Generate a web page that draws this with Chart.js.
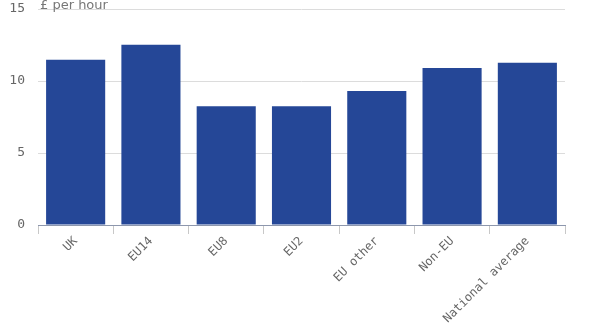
<!DOCTYPE html>
<html>
<head>
<meta charset="utf-8">
<script src="https://cdn.jsdelivr.net/npm/chart.js@4/dist/chart.umd.min.js"></script>
<style>
html,body{margin:0;padding:0;background:#fff;}
#wrap{position:relative;width:600px;height:336px;}
</style>
</head>
<body>
<div id="wrap"><canvas id="c" width="600" height="336"></canvas></div>
<script>
const categories = ["UK", "EU14", "EU8", "EU2", "EU other", "Non-EU", "National average"];
const payPerHour = [11.47, 12.52, 8.25, 8.25, 9.3, 10.91, 11.26];
const yTicks = [0, 5, 10, 15];
const unitLabel = "£ per hour";

const unitPlugin = {
  id: 'unitLabel',
  afterDraw(chart) {
    const ctx = chart.ctx;
    ctx.save();
    ctx.font = '13px "DejaVu Sans", sans-serif';
    ctx.fillStyle = '#777';
    ctx.textAlign = 'left';
    ctx.textBaseline = 'alphabetic';
    ctx.fillText(unitLabel, chart.chartArea.left + 2, 9);
    ctx.restore();
  }
};

new Chart(document.getElementById('c'), {
  type: 'bar',
  data: {
    labels: categories,
    datasets: [{
      data: payPerHour,
      backgroundColor: '#254797',
      borderWidth: 0,
      barPercentage: 0.785,
      categoryPercentage: 1.0
    }]
  },
  options: {
    responsive: false,
    animation: false,
    devicePixelRatio: 1,
    layout: { padding: { top: 9, right: 35, left: 0, bottom: 0 } },
    plugins: { legend: { display: false }, tooltip: { enabled: false } },
    scales: {
      x: {
        afterFit(scale) {
          scale.height = 111;
          scale.paddingTop = 0; scale.paddingBottom = 0;
          scale.paddingLeft = 0; scale.paddingRight = 0;
        },
        grid: {
          offset: true,
          drawOnChartArea: false,
          drawTicks: true,
          tickLength: 9,
          color: '#c8c8c8'
        },
        border: { display: true, color: '#8d97ad', width: 1 },
        ticks: {
          minRotation: 45,
          maxRotation: 45,
          autoSkip: false,
          padding: 0,
          color: '#666',
          font: { family: '"DejaVu Sans Mono", monospace', size: 12 }
        }
      },
      y: {
        min: 0,
        max: 15,
        afterFit(scale) {
          scale.width = 38;
          scale.paddingTop = 0; scale.paddingBottom = 0;
        },
        afterBuildTicks(scale) { scale.ticks = yTicks.map(v => ({ value: v })); },
        grid: { color: '#dcdcdc', drawTicks: false },
        border: { display: false },
        ticks: {
          padding: 13,
          color: '#666',
          font: { family: '"DejaVu Sans Mono", monospace', size: 13 }
        }
      }
    }
  },
  plugins: [unitPlugin]
});
</script>
</body>
</html>
